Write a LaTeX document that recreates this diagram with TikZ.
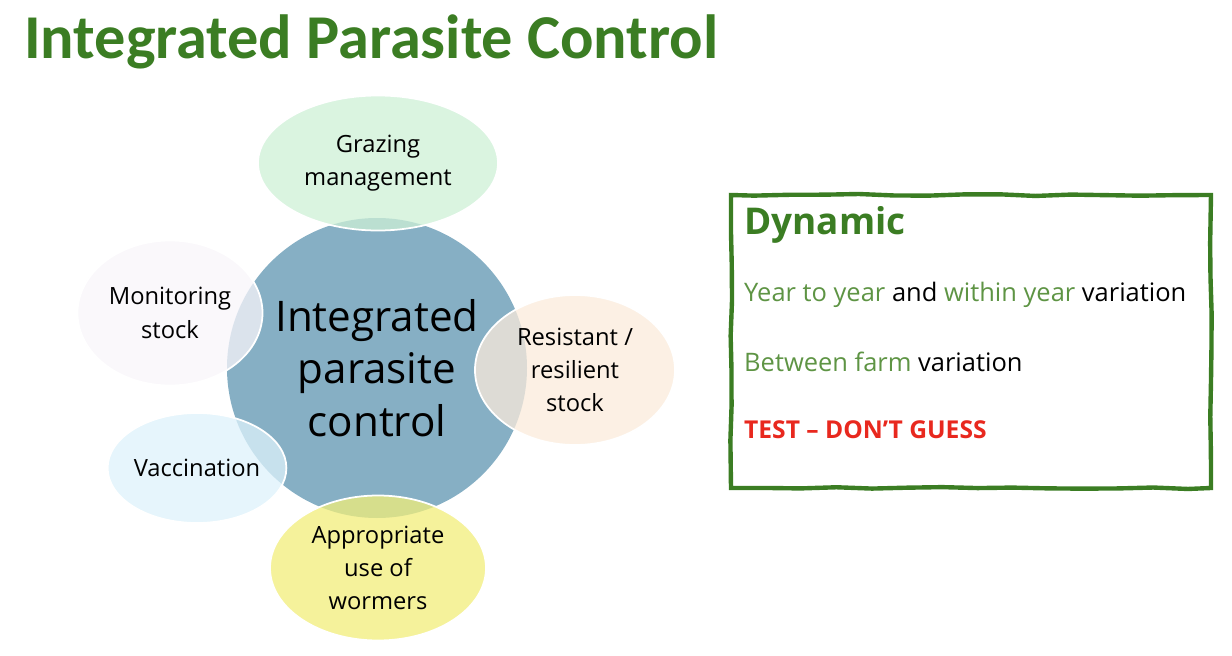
\documentclass[tikz,border=0pt]{standalone}
\usepackage{fontspec}
\setmainfont{Carlito}
\newfontfamily\bodyfont{Open Sans}
\usetikzlibrary{positioning,shapes.geometric,decorations.pathmorphing}
\definecolor{titlegreen}{HTML}{3B7D23}
\definecolor{hubblue}{HTML}{86AFC4}
\definecolor{grazegreen}{HTML}{CDF0D6}
\definecolor{monlav}{HTML}{F8F5FA}
\definecolor{respeach}{HTML}{FBEBDB}
\definecolor{vacblue}{HTML}{DDF2FB}
\definecolor{wormyellow}{HTML}{F2EE7A}
\definecolor{textgreen}{HTML}{5E9444}
\definecolor{alertred}{HTML}{E8281E}
\tikzset{
    petal/.style={ellipse, draw=white, line width=1pt, fill opacity=0.75, text opacity=1,
        align=center, inner sep=0pt, font=\bodyfont\fontsize{13.5}{19}\selectfont},
    boxline/.style={font=\bodyfont\fontsize{14.5}{18}\selectfont, anchor=west}
}
\begin{document}
\begin{tikzpicture}[x=0.02cm, y=-0.02cm]
    \useasboundingbox (0, 0) rectangle (1232, 656);
    % Title
    \node[anchor=west, font=\bfseries\fontsize{35.5}{40}\selectfont, text=titlegreen] (title) at (18, 42) {Integrated Parasite Control};
    % Hub
    \node[circle, fill=hubblue, minimum size=300*0.02cm, align=center,
        font=\bodyfont\fontsize{24}{30}\selectfont] (hub) at (377, 368) {Integrated\\parasite\\control};
    % Petals
    \node[petal, fill=grazegreen, minimum width=240*0.02cm, minimum height=135*0.02cm] (graze) at (378, 163) {Grazing\\management};
    \node[petal, fill=monlav, minimum width=185*0.02cm, minimum height=145*0.02cm] (monitor) at (170, 313) {Monitoring\\stock};
    \node[petal, fill=respeach, minimum width=200*0.02cm, minimum height=150*0.02cm] (resist) at (575, 370) {Resistant /\\resilient\\stock};
    \node[petal, fill=vacblue, minimum width=165*0.02cm, minimum height=110*0.02cm] (vacc) at (197, 468) {Vaccination};
    \node[petal, fill=wormyellow, minimum width=216*0.02cm, minimum height=145*0.02cm] (wormers) at (378, 568) {Appropriate\\use of\\wormers};
    % Box
    \draw[titlegreen, line width=2.5pt, decorate, decoration={random steps, segment length=20pt, amplitude=0.6pt}]
        (731, 195) rectangle (1211, 488);
    \node[anchor=west, font=\bodyfont\bfseries\fontsize{21}{26}\selectfont, text=titlegreen] (dyn) at (738, 225) {Dynamic};
    \node[boxline] (line1) at (738, 295) {\textcolor{textgreen}{Year to year} and \textcolor{textgreen}{within year} variation};
    \node[boxline] (line2) at (738, 362) {\textcolor{textgreen}{Between farm} variation};
    \node[boxline, font=\bodyfont\bfseries\fontsize{14}{18}\selectfont, text=alertred] (line3) at (738, 430) {TEST – DON’T GUESS};
\end{tikzpicture}
\end{document}
